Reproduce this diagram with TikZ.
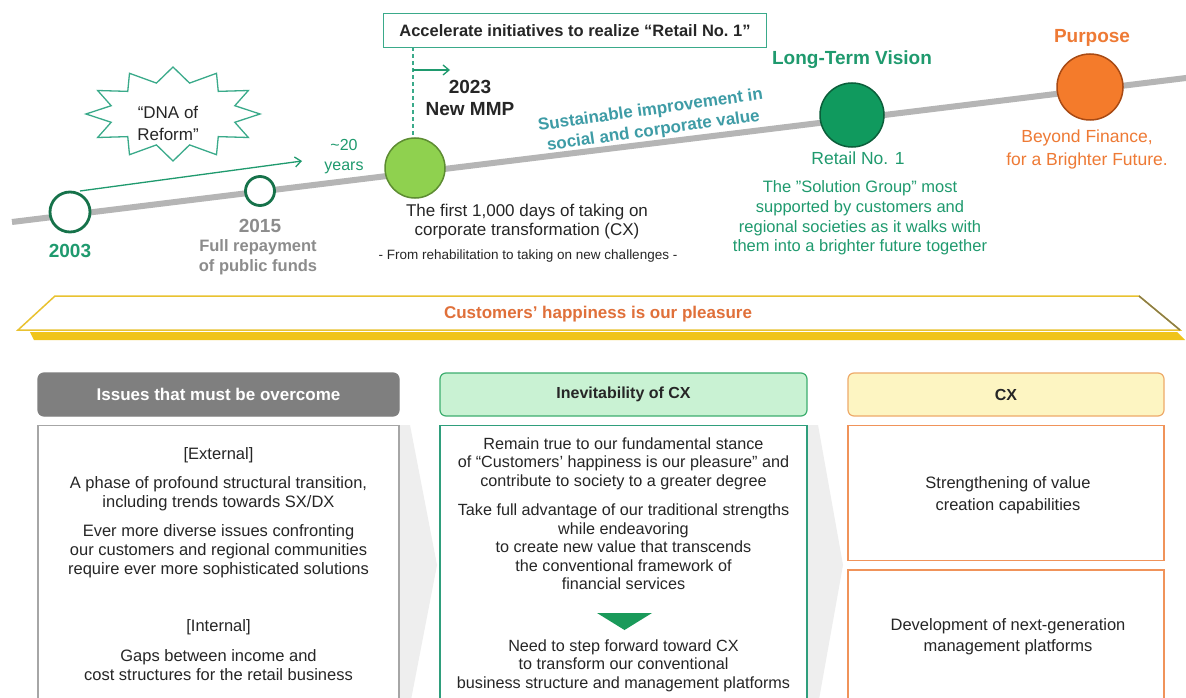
\documentclass[tikz,border=0pt]{standalone}
\usepackage{fontspec}
\setmainfont{Liberation Sans}
\usetikzlibrary{arrows.meta,calc}
\definecolor{txt}{HTML}{262626}
\definecolor{tlgray}{HTML}{B5B5B5}
\definecolor{dkgreen}{HTML}{16724A}
\definecolor{tgreen}{HTML}{1F9A6E}
\definecolor{tealtxt}{HTML}{3E9CA6}
\definecolor{cxfill}{HTML}{8FD14F}
\definecolor{cxdraw}{HTML}{5D8C32}
\definecolor{ltvfill}{HTML}{109A5E}
\definecolor{ltvdraw}{HTML}{0B5E3A}
\definecolor{purfill}{HTML}{F47B2B}
\definecolor{purdraw}{HTML}{A84A14}
\definecolor{orangetxt}{HTML}{EE7A35}
\definecolor{bantxt}{HTML}{E0703A}
\definecolor{grey15}{HTML}{8C8C8C}
\definecolor{banyel}{HTML}{E9C230}
\definecolor{banshadow}{HTML}{F0C419}
\definecolor{banedge}{HTML}{8A7D4A}
\definecolor{hdrgrey}{HTML}{7F7F7F}
\definecolor{bodygrey}{HTML}{A6A6A6}
\definecolor{ghdrfill}{HTML}{C9F2D3}
\definecolor{ghdrdraw}{HTML}{3DAE6F}
\definecolor{gbody}{HTML}{2F9E7C}
\definecolor{yhdrfill}{HTML}{FDF5C2}
\definecolor{yhdrdraw}{HTML}{EEAA6A}
\definecolor{obody}{HTML}{F0935A}
\definecolor{tri}{HTML}{1A9A5A}
\definecolor{chev}{HTML}{EEEEEE}
\definecolor{accg}{HTML}{3AAA8A}
\newcommand{\myfs}[2]{\fontsize{#1}{#2}\selectfont}
\begin{document}
\begin{tikzpicture}[x=1pt,y=-1pt,
  every node/.style={inner sep=0pt, align=center, text=txt},
  body/.style={font=\myfs{16.5}{19}},
  bodyb/.style={font=\myfs{16.2}{18.5}},
  hdr/.style={rounded corners=6pt, minimum height=43pt, line width=1.2pt, font=\bfseries\myfs{16}{19}},
  garrow/.style={draw=tgreen, line width=1.3pt, -{Straight Barb[length=6pt,width=10pt]}},
  ring/.style={circle, draw=dkgreen, fill=white, line width=2.8pt, inner sep=0pt},
  bigdot/.style={circle, line width=1.5pt, inner sep=0pt},
]
\useasboundingbox (0,0) rectangle (1186,698);
\fill[white] (0,0) rectangle (1186,698);

% ---------------- timeline ----------------
\coordinate (tlA) at (12,222);
\coordinate (tlB) at (1190,77.5);
\draw[line width=6pt, tlgray] (tlA) -- (tlB);

\node[ring, minimum size=40pt] (c03) at (70,212) {};
\node[ring, minimum size=29pt] (c15) at (260,191) {};
\node[bigdot, fill=cxfill, draw=cxdraw, minimum size=60pt] (ccx) at (415,168) {};
\node[bigdot, fill=ltvfill, draw=ltvdraw, minimum size=64pt] (cltv) at (852,115) {};
\node[bigdot, fill=purfill, draw=purdraw, minimum size=66pt] (cpur) at (1090,87) {};

% starburst
\begin{scope}[shift={(173,114)}]
\draw[accg, line width=1.3pt, fill=white]
  (0:87 and 47)
  \foreach \i [evaluate=\i as \rx using {mod(\i,2)==0 ? 87 : 64},
               evaluate=\i as \ry using {mod(\i,2)==0 ? 47 : 32}] in {1,...,23}
  { -- ({\i*360/24}:{\rx} and {\ry}) } -- cycle;
\end{scope}
\node[font=\myfs{17}{22}] (dna) at (168,123) {“DNA of\\Reform”};

% ~20 years arrow
\coordinate (a20s) at (80,191);
\coordinate (a20e) at (302,161);
\draw[garrow] (a20s) -- (a20e);
\node[text=tgreen, font=\myfs{16}{20}] (yrs) at (344,157) {\textasciitilde20\\years};

% labels 2003 / 2015
\node[text=tgreen, font=\bfseries\myfs{19}{22}] (l03) at (70,251) {2003};
\node[text=grey15, font=\bfseries\myfs{19}{22}] (l15) at (260,226) {2015};
\node[text=grey15, font=\bfseries\myfs{16.5}{20}] (l15b) at (258,257) {Full repayment\\of public funds};

% accelerate box
\node[draw=accg, line width=1.6pt, minimum width=383pt, minimum height=34pt,
      font=\bfseries\myfs{16.5}{20}] (acc) at (575,30.5) {Accelerate initiatives to realize “Retail No.~1”};
\coordinate (dtop) at (413,47.5);
\draw[accg, line width=1.3pt, dash pattern=on 4pt off 3pt] (dtop) -- (dtop |- ccx.north);
\coordinate (m1) at (413,70);
\coordinate (m2) at (450,70);
\draw[garrow] (m1) -- (m2);
\node[font=\bfseries\myfs{19}{22}] (mmp) at (470,98) {2023\\New MMP};

% sustainable text
\node[text=tealtxt, font=\bfseries\myfs{17}{21}, rotate=8] (sus) at (652,121) {Sustainable improvement in\\social and corporate value};

% under CX circle
\node[font=\myfs{17}{19}] (cxt) at (527,222) {The first 1,000 days of taking on\\corporate transformation (CX)};
\node[font=\myfs{13.5}{16}] (cxt2) at (528,256) {- From rehabilitation to taking on new challenges -};

% long term vision
\node[text=tgreen, font=\bfseries\myfs{19}{22}] (ltv) at (852,60) {Long-Term Vision};
\node[text=tgreen, font=\myfs{17.5}{20}] (r1) at (858,158) {Retail No. 1};
\node[text=tgreen, font=\myfs{16.5}{19.7}] (r1t) at (860,218) {The "Solution Group" most\\supported by customers and\\regional societies as it walks with\\them into a brighter future together};

% purpose
\node[text=orangetxt, font=\bfseries\myfs{19}{22}] (pur) at (1092,38) {Purpose};
\node[text=orangetxt, font=\myfs{17.5}{23}] (purt) at (1087,149) {Beyond Finance,\\for a Brighter Future.};

% ---------------- banner ----------------
\fill[banshadow] (30,332) -- (1177,332) -- (1185,340) -- (34,340) -- cycle;
\coordinate (bn1) at (55,296);
\coordinate (bn2) at (1139,296);
\coordinate (bn3) at (1180,330);
\coordinate (bn4) at (18,330);
\filldraw[fill=white, draw=banyel, line width=1.5pt] (bn1) -- (bn2) -- (bn3) -- (bn4) -- cycle;
\draw[banedge, line width=1.5pt] (bn2) -- (bn3);
\node[text=bantxt, font=\bfseries\myfs{17}{20}] (ban) at (598,314) {Customers’ happiness is our pleasure};

% ---------------- chevrons ----------------
\fill[chev] (399,425) -- (410,425) -- (437,565) -- (410,705) -- (399,705) -- cycle;
\fill[chev] (807,425) -- (818,425) -- (843,565) -- (818,705) -- (807,705) -- cycle;

% ---------------- box 1 ----------------
\node[hdr, fill=hdrgrey, draw=hdrgrey, minimum width=361pt, text=white, font=\bfseries\myfs{17}{19}] (h1) at (218.5,394.5) {Issues that must be overcome};
\draw[bodygrey, line width=1.3pt] (38,740) -- (38,425.5) -- (399,425.5) -- (399,740);
\node[body] (ext) at (218.5,455) {[External]};
\node[body] (b1a) at (218.5,493.5) {A phase of profound structural transition,\\including trends towards SX/DX};
\node[body] (b1b) at (218.5,551.5) {Ever more diverse issues confronting\\our customers and regional communities\\require ever more sophisticated solutions};
\node[body] (int) at (218.5,627) {[Internal]};
\node[body] (b1c) at (218.5,665) {Gaps between income and\\cost structures for the retail business};

% ---------------- box 2 ----------------
\node[hdr, fill=ghdrfill, draw=ghdrdraw, minimum width=367pt] (h2) at (623.5,394.5) {Inevitability of CX};
\draw[gbody, line width=1.3pt] (440,740) -- (440,425.5) -- (807,425.5) -- (807,740);
\node[bodyb] (b2a) at (623.5,463.5) {Remain true to our fundamental stance\\of “Customers’ happiness is our pleasure” and\\contribute to society to a greater degree};
\node[bodyb] (b2b) at (623.5,547) {Take full advantage of our traditional strengths\\while endeavoring\\to create new value that transcends\\the conventional framework of\\financial services};
\fill[tri] (597,613) -- (652,613) -- (624.5,630) -- cycle;
\node[bodyb] (b2c) at (623.5,665.5) {Need to step forward toward CX\\to transform our conventional\\business structure and management platforms};

% ---------------- box 3 ----------------
\node[hdr, fill=yhdrfill, draw=yhdrdraw, minimum width=316pt] (h3) at (1006,394.5) {CX};
\node[draw=obody, line width=1.3pt, minimum width=316pt, minimum height=135pt] (b3a) at (1006,493) {};
\node[body, font=\myfs{16.5}{22}] (b3at) at (1008,495) {Strengthening of value\\creation capabilities};
\draw[obody, line width=1.3pt] (848,740) -- (848,570) -- (1164,570) -- (1164,740);
\node[body, font=\myfs{16.5}{21}] (b3bt) at (1008,637) {Development of next-generation\\management platforms};
\end{tikzpicture}
\end{document}
